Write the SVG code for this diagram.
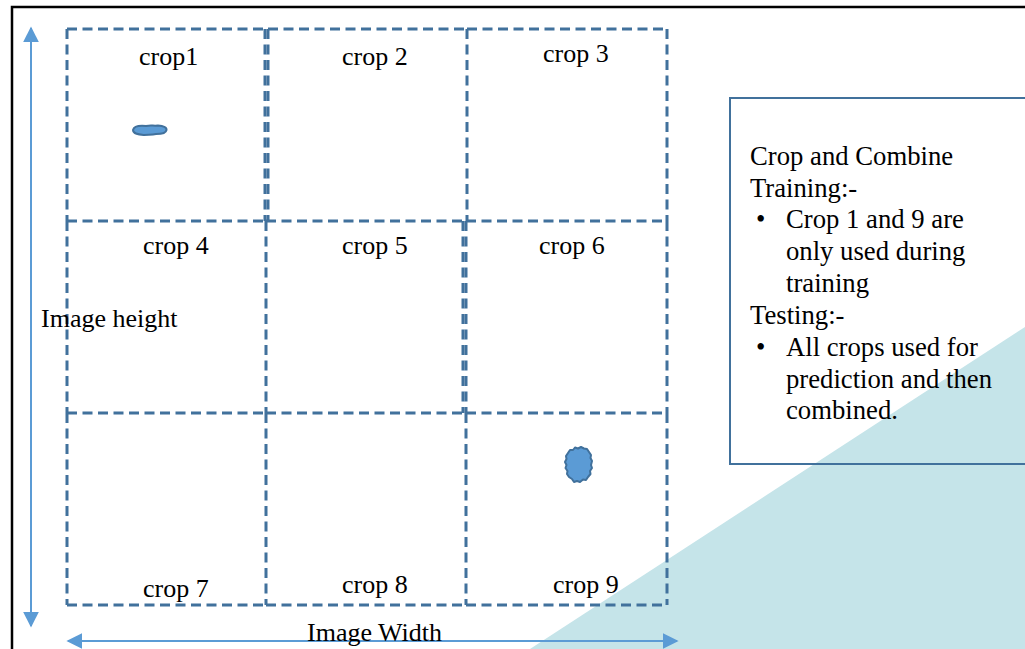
<svg xmlns="http://www.w3.org/2000/svg" width="1025" height="649" viewBox="0 0 1025 649">
  <defs>
    <style>
      .lbl { font-family: "Liberation Serif", "Times New Roman", serif; font-size: 26px; fill: #000; }
      .note { font-family: "Liberation Serif", "Times New Roman", serif; font-size: 26.7px; fill: #000; }
      .cell { fill: none; stroke: #41719c; stroke-width: 3; stroke-dasharray: 10 5.5; }
      .axis { stroke: #5b9bd5; stroke-width: 2; fill: none; }
      .blob { fill: #5b9bd5; stroke: #41719c; stroke-width: 2; stroke-linejoin: round; }
    </style>
    <marker id="ahv" viewBox="0 0 10 10" refX="9" refY="5" markerWidth="16" markerHeight="16" markerUnits="userSpaceOnUse" orient="auto-start-reverse">
      <path d="M0,0 L10,5 L0,10 Z" fill="#5b9bd5"/>
    </marker>
  </defs>

  <rect width="1025" height="649" fill="#fff"/>

  <!-- page frame -->
  <path d="M12,649 V7 H1025" fill="none" stroke="#000" stroke-width="2.5"/>

  <!-- shaded corner -->
  <polygon points="530,649 1025,327 1025,649" fill="#c5e4e9"/>

  <!-- crop grid: each cell draws its own top/left edges, outer cells also close the grid -->
  <g id="crop1">
    <path class="cell" d="M67,29 H265 M67,29 V221 M265,29 V221"/>
    <path class="blob" d="M133,130 C134,126 141,125.5 146,126 C150,125 154,126 158,125.5 C163,126 167,127 166.5,130 C166,133 161,134 156,134 C152,135 148,134.5 144,135 C139,134.5 133,134 133,130 Z"/>
    <text class="lbl" x="139" y="65">crop1</text>
  </g>
  <g id="crop2">
    <path class="cell" d="M268,29 H467 M268,29 V221"/>
    <text class="lbl" x="342" y="65">crop 2</text>
  </g>
  <g id="crop3">
    <path class="cell" d="M467,29 H667 M467,29 V221 M667,29 V221"/>
    <text class="lbl" x="543" y="62">crop 3</text>
  </g>
  <g id="crop4">
    <path class="cell" d="M67,221 H266 M67,221 V413"/>
    <text class="lbl" x="143" y="254">crop 4</text>
  </g>
  <g id="crop5">
    <path class="cell" d="M266,221 H463 M266,221 V413 M463,221 V413"/>
    <text class="lbl" x="342" y="254">crop 5</text>
  </g>
  <g id="crop6">
    <path class="cell" d="M466,221 H667 M466,221 V413 M667,221 V413"/>
    <text class="lbl" x="539" y="254">crop 6</text>
  </g>
  <g id="crop7">
    <path class="cell" d="M67,413 H266 M67,413 V605 M67,605 H266"/>
    <text class="lbl" x="143" y="597">crop 7</text>
  </g>
  <g id="crop8">
    <path class="cell" d="M266,413 H466 M266,413 V605 M266,605 H466"/>
    <text class="lbl" x="342" y="593">crop 8</text>
  </g>
  <g id="crop9">
    <path class="cell" d="M466,413 H667 M466,413 V605 M466,605 H667 M667,413 V605"/>
    <path class="blob" d="M568,453 L570,450 L573,450 L575,447.5 L578,448.5 L581,447 L584,448.5 L587,449 L589,452 L591,455 L590.5,458 L592,461 L591,465 L592,468 L590,471 L590.5,474 L588,477 L586,480 L583,479.5 L580,482 L577,481 L574,482 L572,479 L569,477 L567,474 L567.5,471 L565.5,468 L566.5,465 L565,462 L566.5,459 L566,456 Z"/>
    <text class="lbl" x="553" y="593">crop 9</text>
  </g>

  <!-- dimension arrows -->
  <g id="connectors">
    <line class="axis" x1="31" y1="28" x2="31" y2="626" marker-start="url(#ahv)" marker-end="url(#ahv)"/>
    <line class="axis" x1="68" y1="641" x2="677" y2="641" marker-start="url(#ahv)" marker-end="url(#ahv)"/>
  </g>

  <g id="axis-labels">
    <text class="lbl" x="41" y="327">Image height</text>
    <text class="lbl" x="307" y="641">Image Width</text>
  </g>

  <!-- notes box -->
  <g id="notes">
    <rect x="730" y="98" width="310" height="366" fill="none" stroke="#41719c" stroke-width="2"/>
    <text class="note" x="750" y="165">Crop and Combine</text>
    <text class="note" x="750" y="197">Training:-</text>
    <text class="note" x="756" y="228">•</text>
    <text class="note" x="786" y="228">Crop 1 and 9 are</text>
    <text class="note" x="786" y="260">only used during</text>
    <text class="note" x="786" y="292">training</text>
    <text class="note" x="750" y="324">Testing:-</text>
    <text class="note" x="756" y="356">•</text>
    <text class="note" x="786" y="356">All crops used for</text>
    <text class="note" x="786" y="388">prediction and then</text>
    <text class="note" x="786" y="419">combined.</text>
  </g>
</svg>
